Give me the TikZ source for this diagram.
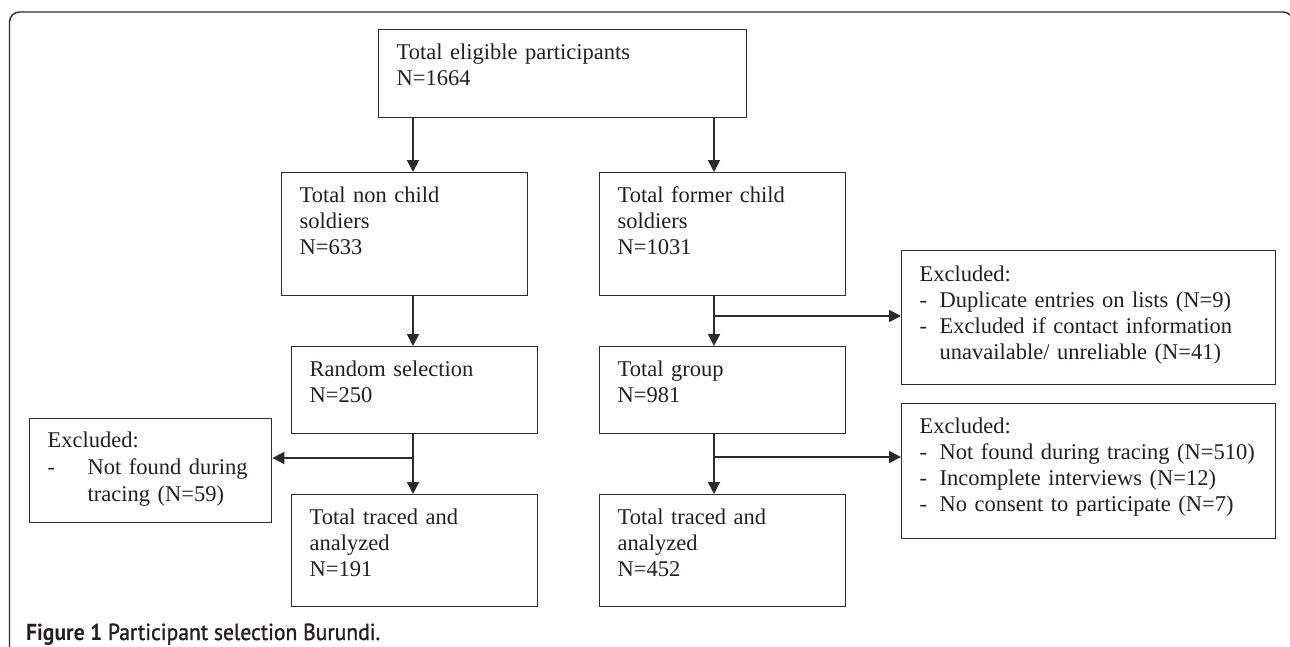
\documentclass[tikz,border=0pt]{standalone}
\usepackage{fontspec}
\usepackage{graphicx}
\setmainfont{Liberation Serif}
\newfontfamily\capfont{PT Sans}
\newfontfamily\capsemi[FakeBold=1.3]{PT Sans}
\usetikzlibrary{arrows.meta}
\definecolor{ink}{HTML}{231F20}
\definecolor{rulec}{HTML}{2B2B2B}
\begin{document}
\begin{tikzpicture}[x=1pt,y=-1pt,
  box/.style={draw=rulec, line width=1.4pt, inner xsep=18pt, inner ysep=0pt,
    align=left, anchor=north west, text=ink,
    font=\fontsize{22.5}{26}\selectfont, text height=30pt},
  arr/.style={draw=rulec, line width=1.8pt, -{Triangle[length=12pt,width=12pt]}}]
\useasboundingbox (0,0) rectangle (1290,646);
% outer frame
\draw[rulec, line width=1.4pt, rounded corners=10pt] (9.5,660) -- (9.5,12) -- (1293,12) -- (1293,660);

% boxes
\node[box, text width=332pt, text depth=58pt] (top) at (378,29) {Total eligible participants\\N=1664};
\node[box, text width=210pt, text depth=93pt] (nonc) at (281,172) {Total non child\\soldiers\\N=633};
\node[box, text width=210pt, text depth=93pt] (former) at (599,172) {Total former child\\soldiers\\N=1031};
\node[box, text width=210pt, text depth=57pt] (rand) at (291,346) {Random selection\\N=250};
\node[box, text width=210pt, text depth=57pt] (group) at (599,346) {Total group\\N=981};
\node[box, text width=210pt, text depth=82pt] (tracedL) at (291,494) {Total traced and\\analyzed\\N=191};
\node[box, text width=210pt, text depth=82pt] (tracedR) at (599,494) {Total traced and\\analyzed\\N=452};
\node[box, text width=338pt, text depth=103pt, text height=31pt] (excl1) at (901,250)
  {Excluded:\\\makebox[20pt][l]{-}Duplicate entries on lists (N=9)\\\makebox[20pt][l]{-}Excluded if contact information\\\hspace*{20pt}unavailable/ unreliable (N=41)};
\node[box, text width=338pt, text depth=105pt] (excl2) at (901,403)
  {Excluded:\\\makebox[20pt][l]{-}Not found during tracing (N=510)\\\makebox[20pt][l]{-}Incomplete interviews (N=12)\\\makebox[20pt][l]{-}No consent to participate (N=7)};
\node[box, text width=206pt, text depth=75pt, text height=29pt, font=\fontsize{22.5}{27}\selectfont] (exclL) at (29,418)
  {Excluded:\\\makebox[40pt][l]{-}Not found during\\\hspace*{40pt}tracing (N=59)};

% connectors
\coordinate (jl) at (413,0);
\coordinate (jr) at (714,0);
\draw[arr] (top.south -| jl) -- (nonc.north -| jl);
\draw[arr] (top.south -| jr) -- (former.north -| jr);
\draw[arr] (nonc.south -| jl) -- (rand.north -| jl);
\draw[arr] (former.south -| jr) -- (group.north -| jr);
\draw[arr] (rand.south -| jl) -- (tracedL.north -| jl);
\draw[arr] (group.south -| jr) -- (tracedR.north -| jr);
\coordinate (bl) at (413,458);
\draw[arr] (bl) -- (bl -| exclL.east);
\coordinate (br1) at (714,316);
\draw[arr] (br1) -- (br1 -| excl1.west);
\coordinate (br2) at (714,457);
\draw[arr] (br2) -- (br2 -| excl2.west);

% caption
\node[anchor=base west, inner sep=0pt, text=ink] (cap) at (26,640)
  {\resizebox{354pt}{16.5pt}{\capfont\fontsize{23}{23}\selectfont\bfseries Figure 1 \capsemi\mdseries Participant selection Burundi.}};
\end{tikzpicture}
\end{document}
